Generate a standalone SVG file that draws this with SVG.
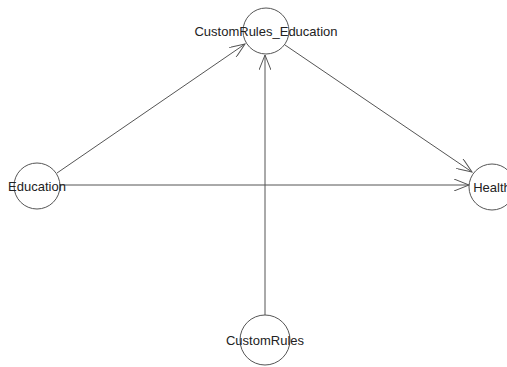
<svg xmlns="http://www.w3.org/2000/svg" width="507" height="367" viewBox="0 0 507 367">
<style>
.n{fill:none;stroke:#555;stroke-width:1}
.t{font-family:"Liberation Sans",Arial,sans-serif;font-size:13px;fill:#222;text-anchor:middle;dominant-baseline:central}
.e{stroke:#555;stroke-width:1;fill:none;marker-end:url(#a)}
</style>
<defs>
<marker id="a" markerWidth="16" markerHeight="12" refX="15" refY="6" orient="auto" markerUnits="userSpaceOnUse">
<path d="M0,0 L15,6 L0,12" fill="none" stroke="#555" stroke-width="1"/>
</marker>
</defs>
<rect width="507" height="367" fill="#fff"/>
<g id="edges">
<line class="e" x1="57" y1="173" x2="245" y2="44"/>
<line class="e" x1="60" y1="185" x2="469" y2="185"/>
<line class="e" x1="265" y1="315" x2="265" y2="55"/>
<line class="e" x1="285" y1="45" x2="472" y2="172"/>
</g>
<g id="CustomRules_Education">
<circle class="n" cx="266" cy="31" r="23"/>
<text class="t" x="266" y="31">CustomRules_Education</text>
</g>
<g id="Education">
<circle class="n" cx="37" cy="186" r="23"/>
<text class="t" x="37" y="186">Education</text>
</g>
<g id="Health">
<circle class="n" cx="492" cy="187" r="23"/>
<text class="t" x="492" y="187">Health</text>
</g>
<g id="CustomRules">
<circle class="n" cx="265" cy="340" r="25"/>
<text class="t" x="265" y="340">CustomRules</text>
</g>
</svg>
